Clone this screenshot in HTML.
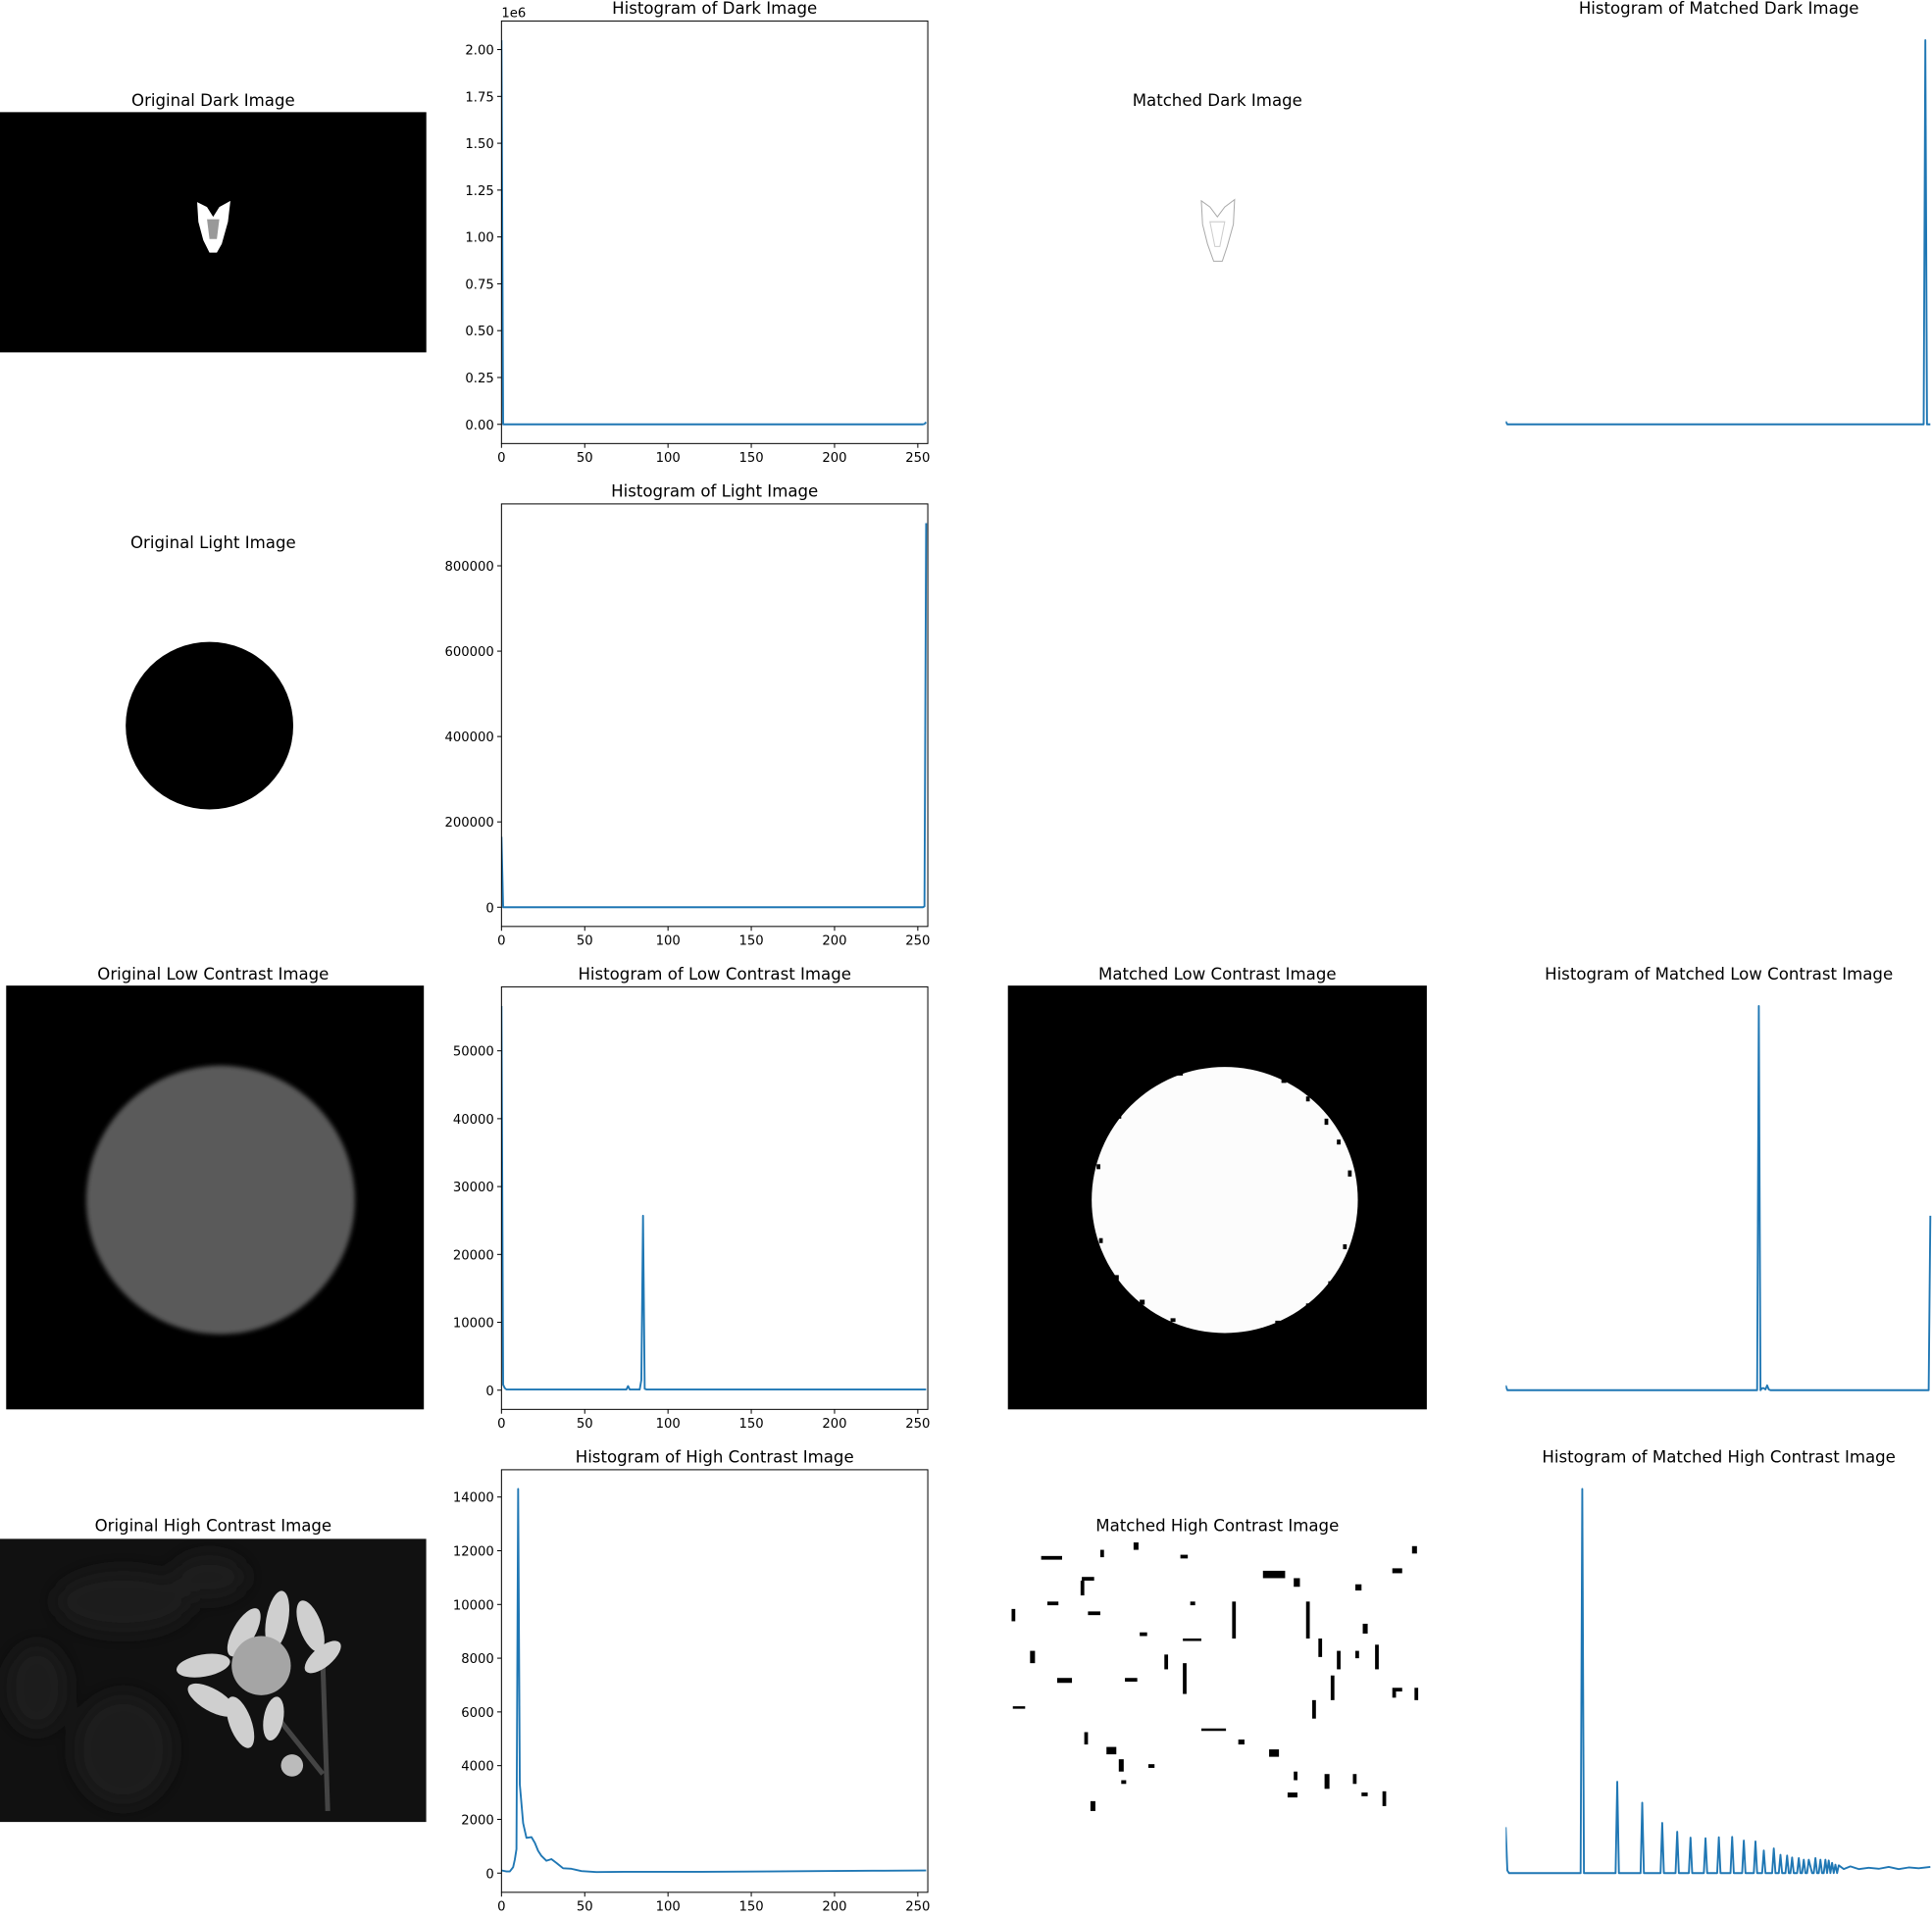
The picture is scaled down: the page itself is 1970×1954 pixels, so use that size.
<!DOCTYPE html>
<html><head><meta charset="utf-8">
<style>
html,body{margin:0;padding:0;background:#fff;}
svg{display:block;font-family:"DejaVu Sans","Liberation Sans",sans-serif;}
</style></head>
<body>
<svg id="fig" width="1970" height="1954" viewBox="0 0 1568 1555.2" xmlns="http://www.w3.org/2000/svg">
<defs>
<filter id="blur2"><feGaussianBlur stdDeviation="2"/></filter>
<filter id="blur6"><feGaussianBlur stdDeviation="8"/></filter>
<clipPath id="hcClip"><rect x="0" y="1249" width="346" height="230"/></clipPath>
</defs>

<!-- Row 1 images -->
<text x="173" y="86" font-size="13.2" text-anchor="middle">Original Dark Image</text>
<g>
<rect x="0" y="91" width="346" height="195" fill="#000"/>
<polygon points="160,164 168,168 173,176 178,168 187,163 185,180 180,198 176,205 170,205 165,195 161,180" fill="#fff"/>
<polygon points="168,178 178,178 176,194 170,194" fill="#999"/>
</g>
<text x="988" y="86" font-size="13.2" text-anchor="middle">Matched Dark Image</text>
<g fill="none" stroke="#aaa" stroke-width="0.8">
<path d="M975,163 L982,168 L988,176 L994,168 L1002,162 L1001,182 L996,200 L992,212 L985,212 L980,198 L976,182 Z"/>
<path d="M982,180 L994,180 L990,200 L986,200 Z" stroke="#ccc"/>
</g>

<!-- Row 2 images -->
<text x="173" y="445" font-size="13.2" text-anchor="middle">Original Light Image</text>
<circle cx="170" cy="589" r="68" fill="#000"/>

<!-- Row 3 images -->
<text x="173" y="795" font-size="13.2" text-anchor="middle">Original Low Contrast Image</text>
<g>
<rect x="5" y="800" width="339" height="344" fill="#000"/>
<circle cx="179" cy="974" r="109" fill="#5a5a5a" filter="url(#blur2)"/>
</g>
<text x="988" y="795" font-size="13.2" text-anchor="middle">Matched Low Contrast Image</text>
<g>
<rect x="818" y="800" width="340" height="344" fill="#000"/>
<circle cx="994" cy="974" r="108" fill="#fcfcfc"/>
<g fill="#000">
<rect x="906" y="905" width="4" height="3"/><rect x="915" y="890" width="3" height="4"/><rect x="935" y="875" width="4" height="3"/>
<rect x="955" y="870" width="5" height="3"/><rect x="1040" y="875" width="4" height="4"/><rect x="1060" y="890" width="3" height="4"/>
<rect x="1075" y="908" width="3" height="5"/><rect x="1085" y="925" width="3" height="4"/><rect x="1094" y="950" width="3" height="5"/>
<rect x="1090" y="1010" width="3" height="4"/><rect x="1078" y="1040" width="4" height="3"/><rect x="1060" y="1058" width="4" height="4"/>
<rect x="1035" y="1072" width="4" height="3"/><rect x="950" y="1070" width="4" height="3"/><rect x="925" y="1055" width="4" height="4"/>
<rect x="905" y="1035" width="3" height="4"/><rect x="892" y="1005" width="3" height="4"/><rect x="890" y="945" width="3" height="4"/>
</g>
</g>

<!-- Row 4 images -->
<text x="173" y="1243" font-size="13.2" text-anchor="middle">Original High Contrast Image</text>
<g clip-path="url(#hcClip)">
<rect x="0" y="1249" width="346" height="230" fill="#111"/>
<g filter="url(#blur6)" fill="#1e1e1e">
<ellipse cx="30" cy="1370" rx="25" ry="35"/><ellipse cx="100" cy="1420" rx="40" ry="45"/>
<ellipse cx="100" cy="1300" rx="55" ry="25"/><ellipse cx="170" cy="1280" rx="30" ry="18"/>
</g>
<path d="M222,1390 L262,1440 M262,1350 L266,1470" stroke="#444" stroke-width="4" fill="none"/>
<g fill="#cfcfcf">
<ellipse cx="198" cy="1325" rx="22" ry="9" transform="rotate(-60 198 1325)"/>
<ellipse cx="225" cy="1315" rx="24" ry="9" transform="rotate(-80 225 1315)"/>
<ellipse cx="252" cy="1320" rx="22" ry="9" transform="rotate(-110 252 1320)"/>
<ellipse cx="165" cy="1352" rx="22" ry="9" transform="rotate(-10 165 1352)"/>
<ellipse cx="172" cy="1380" rx="22" ry="9" transform="rotate(30 172 1380)"/>
<ellipse cx="195" cy="1398" rx="22" ry="9" transform="rotate(70 195 1398)"/>
<ellipse cx="222" cy="1395" rx="18" ry="8" transform="rotate(100 222 1395)"/>
<ellipse cx="262" cy="1345" rx="18" ry="8" transform="rotate(-40 262 1345)"/>
</g>
<circle cx="212" cy="1352" r="24" fill="#a5a5a5"/>
<circle cx="237" cy="1433" r="9" fill="#bbb"/>
</g>
<text x="988" y="1243" font-size="13.2" text-anchor="middle">Matched High Contrast Image</text>
<g fill="#000">
<rect x="818" y="1250" width="340" height="230" fill="#fff"/>
<rect x="845" y="1263" width="17" height="3"/><rect x="893" y="1258" width="3" height="6"/><rect x="920" y="1252" width="4" height="6"/>
<rect x="958" y="1262" width="6" height="3"/><rect x="878" y="1280" width="10" height="3"/><rect x="877" y="1283" width="3" height="12"/>
<rect x="850" y="1300" width="9" height="3"/><rect x="821" y="1306" width="3" height="10"/><rect x="883" y="1308" width="10" height="3"/>
<rect x="1025" y="1275" width="18" height="6"/><rect x="1050" y="1281" width="5" height="7"/><rect x="1130" y="1273" width="8" height="4"/>
<rect x="1146" y="1255" width="4" height="6"/><rect x="1100" y="1286" width="5" height="5"/><rect x="1106" y="1318" width="4" height="8"/>
<rect x="1116" y="1335" width="3" height="20"/><rect x="1100" y="1340" width="3" height="6"/><rect x="945" y="1343" width="3" height="12"/>
<rect x="925" y="1325" width="6" height="3"/><rect x="960" y="1330" width="15" height="2"/><rect x="966" y="1300" width="4" height="3"/>
<rect x="913" y="1362" width="10" height="3"/><rect x="858" y="1362" width="12" height="4"/><rect x="836" y="1340" width="4" height="10"/>
<rect x="1130" y="1370" width="8" height="3"/><rect x="1130" y="1373" width="3" height="5"/><rect x="1148" y="1370" width="3" height="10"/>
<rect x="822" y="1385" width="10" height="2"/><rect x="880" y="1406" width="3" height="10"/><rect x="898" y="1418" width="8" height="6"/>
<rect x="908" y="1428" width="4" height="10"/><rect x="932" y="1432" width="5" height="3"/><rect x="910" y="1445" width="4" height="3"/>
<rect x="885" y="1462" width="4" height="8"/><rect x="1005" y="1412" width="5" height="4"/><rect x="1030" y="1420" width="8" height="6"/>
<rect x="1050" y="1438" width="3" height="7"/><rect x="1075" y="1440" width="4" height="12"/><rect x="1098" y="1440" width="3" height="8"/>
<rect x="1045" y="1455" width="8" height="4"/><rect x="1105" y="1455" width="5" height="3"/><rect x="1122" y="1454" width="3" height="12"/>
<rect x="975" y="1403" width="20" height="2"/><rect x="1000" y="1300" width="3" height="30"/><rect x="1060" y="1300" width="3" height="30"/>
<rect x="1070" y="1330" width="3" height="15"/><rect x="1085" y="1340" width="3" height="15"/><rect x="960" y="1350" width="3" height="25"/>
<rect x="1080" y="1360" width="3" height="20"/><rect x="1065" y="1380" width="3" height="15"/>
</g>

<g id="charts"></g>
</svg>

<script>
// ---------- data ----------
const xTickValues = [0, 50, 100, 150, 200, 250];

const darkBins = [0, 1, 2, 253, 254, 255];
const darkVals = [2050000, 0, 0, 0, 2000, 12000];
const darkTicks = [0, 250000, 500000, 750000, 1000000, 1250000, 1500000, 1750000, 2000000];
const darkTickLabels = ["0.00", "0.25", "0.50", "0.75", "1.00", "1.25", "1.50", "1.75", "2.00"];

const lightBins = [0, 1, 253, 254, 255];
const lightVals = [165000, 0, 0, 2000, 900000];
const lightTicks = [0, 200000, 400000, 600000, 800000];
const lightTickLabels = ["0", "200000", "400000", "600000", "800000"];

const lcBins = [0, 1, 2, 3, 75, 76, 77, 83, 84, 85, 86, 87, 255];
const lcVals = [56600, 800, 300, 100, 100, 600, 100, 100, 1500, 25700, 200, 100, 100];
const lcTicks = [0, 10000, 20000, 30000, 40000, 50000];
const lcTickLabels = ["0", "10000", "20000", "30000", "40000", "50000"];

const hcBins = [0, 3, 5, 7, 8, 9, 10, 11, 13, 15, 18, 20, 22, 24, 27, 30, 33, 37, 42, 48, 57, 80, 120, 160, 200, 230, 255];
const hcVals = [100, 60, 60, 220, 500, 890, 14300, 3300, 1860, 1310, 1340, 1130, 830, 640, 460, 520, 380, 180, 160, 75, 40, 50, 50, 60, 80, 90, 100];
const hcTicks = [0, 2000, 4000, 6000, 8000, 10000, 12000, 14000];
const hcTickLabels = ["0", "2000", "4000", "6000", "8000", "10000", "12000", "14000"];

const mdBins = [0, 1, 2, 251, 252, 253, 255];
const mdVals = [15000, 0, 0, 0, 2050000, 0, 0];

const mlcBins = [0, 1, 2, 151, 152, 153, 154, 155, 156, 157, 158, 159, 160, 254, 255];
const mlcVals = [700, 0, 0, 0, 56600, 0, 300, 300, 100, 700, 100, 0, 0, 0, 25700];

const mhcBins = [0, 1, 2, 45, 46, 47, 66, 67, 68, 81, 82, 83, 93, 94, 95, 102, 103, 104, 110, 111, 112, 119, 120, 121, 127, 128, 129, 135, 136, 137, 142, 143, 144, 149, 150, 151, 154, 155, 156, 160, 161, 162, 164, 165, 166, 168, 169, 170, 171, 172, 173, 175, 176, 177, 178, 179, 180, 181, 182, 184, 185, 186, 187, 188, 189, 190, 191, 192, 193, 194, 195, 196, 197, 198, 199, 200, 203, 207, 212, 218, 224, 230, 236, 242, 248, 255];
const mhcVals = [1710, 100, 0, 0, 14300, 0, 0, 3400, 0, 0, 2620, 0, 0, 1870, 0, 0, 1540, 0, 0, 1320, 0, 0, 1300, 0, 0, 1335, 0, 0, 1350, 0, 0, 1210, 0, 0, 1180, 0, 0, 840, 0, 0, 920, 0, 0, 680, 0, 0, 655, 0, 0, 580, 0, 0, 560, 0, 0, 500, 0, 0, 500, 0, 0, 560, 0, 0, 500, 0, 0, 500, 0, 470, 0, 380, 0, 315, 0, 290, 150, 250, 150, 200, 160, 230, 150, 210, 180, 230, 200];

// ---------- drawing ----------
const NS = "http://www.w3.org/2000/svg";
const root = document.getElementById("charts");
function mk(tag, attrs, parent) {
  const e = document.createElementNS(NS, tag);
  for (const k in attrs) e.setAttribute(k, attrs[k]);
  parent.appendChild(e);
  return e;
}
function makeChart(opt) {
  const g = mk("g", {}, root);
  
  
  const x0 = opt.x, x1 = opt.x + 346, y0 = opt.y, y1 = opt.y + 343;
  const maxV = Math.max.apply(null, opt.vals);
  const vmin = -0.05 * maxV, vmax = 1.05 * maxV;
  const sx = b => x0 + b / 256 * (x1 - x0);
  const sy = v => y1 - (v - vmin) / (vmax - vmin) * (y1 - y0);
  const t = mk("text", {x: x0 + 173, y: y0 - 6, "font-size": 13.2, "text-anchor": "middle"}, g);
  t.textContent = opt.title;
  
  
  let d = "";
  opt.bins.forEach((b, i) => { d += (i ? "L" : "M") + sx(b).toFixed(2) + "," + sy(opt.vals[i]).toFixed(2); });
  const clipId = "clip-" + opt.name;
  const cp = mk("clipPath", {id: clipId}, g);
  mk("rect", {x: x0, y: y0, width: 346, height: 343}, cp);
  const line = mk("path", {d: d, fill: "none", stroke: "#1f77b4", "stroke-width": 1.5, "stroke-linejoin": "round", "clip-path": "url(#" + clipId + ")"}, g);
  
  
  if (!opt.axes) return;
  const frame = mk("rect", {x: x0, y: y0, width: 346, height: 343, fill: "none", stroke: "#000", "stroke-width": 0.8}, g);
  
  
  xTickValues.forEach(v => {
    const x = sx(v);
    mk("line", {x1: x, x2: x, y1: y1, y2: y1 + 3.5, stroke: "#000", "stroke-width": 0.8}, g);
    const lt = mk("text", {x: x, y: y1 + 15, "font-size": 10.5, "text-anchor": "middle"}, g);
    lt.textContent = String(v);
    
    
  });
  opt.ticks.forEach((v, i) => {
    const y = sy(v);
    mk("line", {x1: x0 - 3.5, x2: x0, y1: y, y2: y, stroke: "#000", "stroke-width": 0.8}, g);
    const lt = mk("text", {x: x0 - 6, y: y + 4, "font-size": 10.5, "text-anchor": "end"}, g);
    lt.textContent = opt.tickLabels[i];
    
    
  });
  if (opt.offset) {
    const ot = mk("text", {x: x0, y: y0 - 3, "font-size": 10.5}, g);
    ot.textContent = opt.offset;
    
    
  }
}
makeChart({name: "hist-dark", title: "Histogram of Dark Image", x: 407, y: 17, bins: darkBins, vals: darkVals, ticks: darkTicks, tickLabels: darkTickLabels, axes: true, offset: "1e6"});
makeChart({name: "hist-light", title: "Histogram of Light Image", x: 407, y: 409, bins: lightBins, vals: lightVals, ticks: lightTicks, tickLabels: lightTickLabels, axes: true});
makeChart({name: "hist-low-contrast", title: "Histogram of Low Contrast Image", x: 407, y: 801, bins: lcBins, vals: lcVals, ticks: lcTicks, tickLabels: lcTickLabels, axes: true});
makeChart({name: "hist-high-contrast", title: "Histogram of High Contrast Image", x: 407, y: 1193, bins: hcBins, vals: hcVals, ticks: hcTicks, tickLabels: hcTickLabels, axes: true});
makeChart({name: "hist-matched-dark", title: "Histogram of Matched Dark Image", x: 1222, y: 17, bins: mdBins, vals: mdVals, axes: false});
makeChart({name: "hist-matched-low-contrast", title: "Histogram of Matched Low Contrast Image", x: 1222, y: 801, bins: mlcBins, vals: mlcVals, axes: false});
makeChart({name: "hist-matched-high-contrast", title: "Histogram of Matched High Contrast Image", x: 1222, y: 1193, bins: mhcBins, vals: mhcVals, axes: false});
</script>
</body></html>
